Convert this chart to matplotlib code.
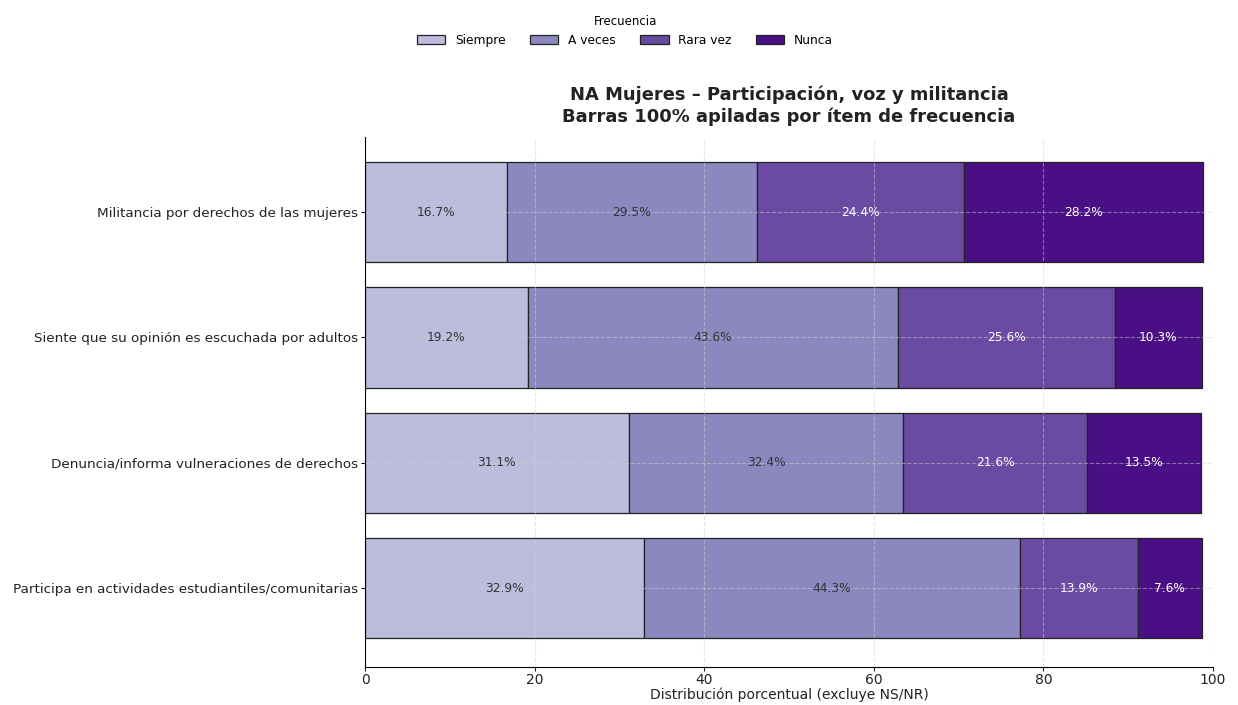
import matplotlib
matplotlib.use("Agg")
import matplotlib.pyplot as plt
import numpy as np

items = [
    "Militancia por derechos de las mujeres",
    "Siente que su opinión es escuchada por adultos",
    "Denuncia/informa vulneraciones de derechos",
    "Participa en actividades estudiantiles/comunitarias",
]
categories = ["Siempre", "A veces", "Rara vez", "Nunca"]
siempre = [16.7, 19.2, 31.1, 32.9]
a_veces = [29.5, 43.6, 32.4, 44.3]
rara_vez = [24.4, 25.6, 21.6, 13.9]
nunca = [28.2, 10.3, 13.5, 7.6]
series = [siempre, a_veces, rara_vez, nunca]
colors = ["#bcbddc", "#8a88bf", "#6a4aa2", "#4a0f84"]
text_colors = ["#333333", "#333333", "white", "white"]

fig = plt.figure(figsize=(12.38, 7.05), dpi=100)
ax = fig.add_axes([365/1238, 1-667/705, (1213-365)/1238, (667-137)/705])

y = np.arange(len(items))
left = np.zeros(len(items))
for cat, vals, c, tc in zip(categories, series, colors, text_colors):
    vals = np.array(vals)
    ax.barh(y, vals, left=left, height=0.8, color=c, edgecolor="#222222",
            linewidth=0.9, label=cat)
    for yi, l, v in zip(y, left, vals):
        ax.text(l + v/2, yi, f"{v:.1f}%", ha="center", va="center",
                fontsize=8.8, color=tc)
    left += vals

ax.set_xlim(0, 100)
ax.set_ylim(3.63, -0.6)
ax.set_yticks(y)
ax.set_yticklabels(items, fontsize=9.7, color="#222222")
ax.set_xticks([0, 20, 40, 60, 80, 100])
ax.tick_params(axis="x", labelsize=10, colors="#222222", length=3, pad=1)
ax.tick_params(axis="y", length=3, pad=2)
ax.grid(True, linestyle="--", color="#d0d0d0", alpha=0.5, linewidth=0.8)
ax.set_axisbelow(False)
for s in ["top", "right"]:
    ax.spines[s].set_visible(False)
for s in ["left", "bottom"]:
    ax.spines[s].set_zorder(5)
ax.set_xlabel("Distribución porcentual (excluye NS/NR)", fontsize=10, color="#222222",
              labelpad=1)
ax.set_title("NA Mujeres – Participación, voz y militancia\nBarras 100% apiladas por ítem de frecuencia",
             fontsize=12.9, fontweight="bold", pad=11, color="#222222")

handles, labels = ax.get_legend_handles_labels()
fig.legend(handles, labels, title="Frecuencia", ncol=4, frameon=False,
           loc="upper center", bbox_to_anchor=(0.505, 0.995), fontsize=8.8,
           title_fontsize=8.5, handlelength=2.3, columnspacing=2.0)

fig.savefig("out.png", dpi=100, facecolor="white")
